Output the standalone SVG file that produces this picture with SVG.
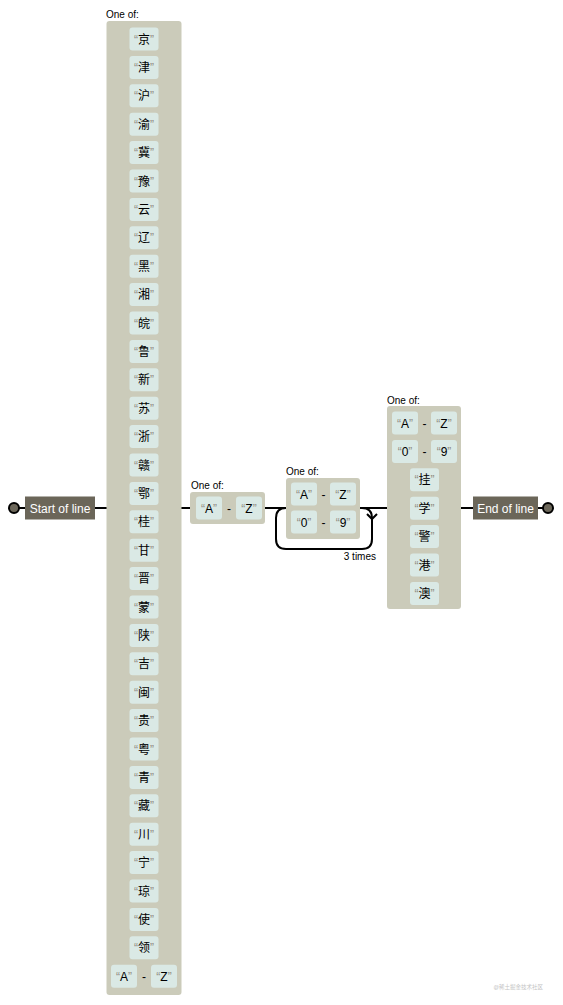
<svg xmlns="http://www.w3.org/2000/svg" width="563" height="1005" viewBox="0 0 563 1005">
<style>
text{font-family:"Liberation Sans",Arial,"Noto Sans CJK SC",sans-serif;}
.lit{fill:#dae9e5;}
.cs{fill:#cbcbba;}
.anchor{fill:#6b6659;}
.lbl{font-size:10px;fill:#000;}
.t{font-size:12px;fill:#000;text-anchor:middle;}
.q{fill:#908c83;}
.at{font-size:12px;fill:#fff;text-anchor:middle;}
.ln{stroke:#000;stroke-width:2;fill:none;}
</style>
<defs>
<rect id="cb" class="lit" width="29" height="23" rx="3"/>
<rect id="lb" class="lit" width="26" height="23" rx="3"/>
</defs>
<rect width="563" height="1005" fill="#fff"/>
<g id="connectors">
<path class="ln" d="M19,508H25 M95,508H107 M181,508H190 M265,508H286 M360,508H387 M461,508H473 M538,508H543"/>
<path class="ln" d="M286,508 q-10,0 -10,10 V539 q0,10 10,10 H362 q10,0 10,-10 V518 q0,-10 -10,-10"/>
<path class="ln" d="M367,514 l5,5 l5,-5"/>
</g>
<g id="start">
<circle cx="14" cy="508" r="5" fill="#6b6659" stroke="#000" stroke-width="2"/>
<rect class="anchor" x="25" y="496.5" width="70" height="23"/>
<text class="at" x="60" y="512.5">Start of line</text>
</g>
<g id="charset1">
<text class="lbl" x="106" y="18">One of:</text>
<rect class="cs" x="106.5" y="21" width="75" height="974" rx="3"/>
<g id="c1items">
<use href="#cb" x="129.5" y="27.5"/><text class="t" x="144" y="43.5"><tspan class="q">“</tspan>京<tspan class="q">”</tspan></text>
<use href="#cb" x="129.5" y="55.9"/><text class="t" x="144" y="71.9"><tspan class="q">“</tspan>津<tspan class="q">”</tspan></text>
<use href="#cb" x="129.5" y="84.3"/><text class="t" x="144" y="100.3"><tspan class="q">“</tspan>沪<tspan class="q">”</tspan></text>
<use href="#cb" x="129.5" y="112.7"/><text class="t" x="144" y="128.7"><tspan class="q">“</tspan>渝<tspan class="q">”</tspan></text>
<use href="#cb" x="129.5" y="141.1"/><text class="t" x="144" y="157.1"><tspan class="q">“</tspan>冀<tspan class="q">”</tspan></text>
<use href="#cb" x="129.5" y="169.5"/><text class="t" x="144" y="185.5"><tspan class="q">“</tspan>豫<tspan class="q">”</tspan></text>
<use href="#cb" x="129.5" y="197.9"/><text class="t" x="144" y="213.9"><tspan class="q">“</tspan>云<tspan class="q">”</tspan></text>
<use href="#cb" x="129.5" y="226.3"/><text class="t" x="144" y="242.3"><tspan class="q">“</tspan>辽<tspan class="q">”</tspan></text>
<use href="#cb" x="129.5" y="254.7"/><text class="t" x="144" y="270.7"><tspan class="q">“</tspan>黑<tspan class="q">”</tspan></text>
<use href="#cb" x="129.5" y="283.1"/><text class="t" x="144" y="299.1"><tspan class="q">“</tspan>湘<tspan class="q">”</tspan></text>
<use href="#cb" x="129.5" y="311.5"/><text class="t" x="144" y="327.5"><tspan class="q">“</tspan>皖<tspan class="q">”</tspan></text>
<use href="#cb" x="129.5" y="339.9"/><text class="t" x="144" y="355.9"><tspan class="q">“</tspan>鲁<tspan class="q">”</tspan></text>
<use href="#cb" x="129.5" y="368.3"/><text class="t" x="144" y="384.3"><tspan class="q">“</tspan>新<tspan class="q">”</tspan></text>
<use href="#cb" x="129.5" y="396.7"/><text class="t" x="144" y="412.7"><tspan class="q">“</tspan>苏<tspan class="q">”</tspan></text>
<use href="#cb" x="129.5" y="425.1"/><text class="t" x="144" y="441.1"><tspan class="q">“</tspan>浙<tspan class="q">”</tspan></text>
<use href="#cb" x="129.5" y="453.5"/><text class="t" x="144" y="469.5"><tspan class="q">“</tspan>赣<tspan class="q">”</tspan></text>
<use href="#cb" x="129.5" y="481.9"/><text class="t" x="144" y="497.9"><tspan class="q">“</tspan>鄂<tspan class="q">”</tspan></text>
<use href="#cb" x="129.5" y="510.3"/><text class="t" x="144" y="526.3"><tspan class="q">“</tspan>桂<tspan class="q">”</tspan></text>
<use href="#cb" x="129.5" y="538.7"/><text class="t" x="144" y="554.7"><tspan class="q">“</tspan>甘<tspan class="q">”</tspan></text>
<use href="#cb" x="129.5" y="567.1"/><text class="t" x="144" y="583.1"><tspan class="q">“</tspan>晋<tspan class="q">”</tspan></text>
<use href="#cb" x="129.5" y="595.5"/><text class="t" x="144" y="611.5"><tspan class="q">“</tspan>蒙<tspan class="q">”</tspan></text>
<use href="#cb" x="129.5" y="623.9"/><text class="t" x="144" y="639.9"><tspan class="q">“</tspan>陕<tspan class="q">”</tspan></text>
<use href="#cb" x="129.5" y="652.3"/><text class="t" x="144" y="668.3"><tspan class="q">“</tspan>吉<tspan class="q">”</tspan></text>
<use href="#cb" x="129.5" y="680.7"/><text class="t" x="144" y="696.7"><tspan class="q">“</tspan>闽<tspan class="q">”</tspan></text>
<use href="#cb" x="129.5" y="709.1"/><text class="t" x="144" y="725.1"><tspan class="q">“</tspan>贵<tspan class="q">”</tspan></text>
<use href="#cb" x="129.5" y="737.5"/><text class="t" x="144" y="753.5"><tspan class="q">“</tspan>粤<tspan class="q">”</tspan></text>
<use href="#cb" x="129.5" y="765.9"/><text class="t" x="144" y="781.9"><tspan class="q">“</tspan>青<tspan class="q">”</tspan></text>
<use href="#cb" x="129.5" y="794.3"/><text class="t" x="144" y="810.3"><tspan class="q">“</tspan>藏<tspan class="q">”</tspan></text>
<use href="#cb" x="129.5" y="822.7"/><text class="t" x="144" y="838.7"><tspan class="q">“</tspan>川<tspan class="q">”</tspan></text>
<use href="#cb" x="129.5" y="851.1"/><text class="t" x="144" y="867.1"><tspan class="q">“</tspan>宁<tspan class="q">”</tspan></text>
<use href="#cb" x="129.5" y="879.5"/><text class="t" x="144" y="895.5"><tspan class="q">“</tspan>琼<tspan class="q">”</tspan></text>
<use href="#cb" x="129.5" y="907.9"/><text class="t" x="144" y="923.9"><tspan class="q">“</tspan>使<tspan class="q">”</tspan></text>
<use href="#cb" x="129.5" y="936.3"/><text class="t" x="144" y="952.3"><tspan class="q">“</tspan>领<tspan class="q">”</tspan></text>
<use href="#lb" x="111" y="964.7"/><text class="t" x="124" y="980.7"><tspan class="q">“</tspan>A<tspan class="q">”</tspan></text>
<text class="t" x="144" y="980.7">-</text>
<use href="#lb" x="151" y="964.7"/><text class="t" x="164" y="980.7"><tspan class="q">“</tspan>Z<tspan class="q">”</tspan></text>
</g>
</g>
<g id="charset2">
<text class="lbl" x="191" y="489">One of:</text>
<rect class="cs" x="190" y="492" width="75" height="32" rx="3"/>
<use href="#lb" x="196" y="496.5"/><text class="t" x="209" y="512.5"><tspan class="q">“</tspan>A<tspan class="q">”</tspan></text>
<text class="t" x="229" y="512.5">-</text>
<use href="#lb" x="236" y="496.5"/><text class="t" x="249" y="512.5"><tspan class="q">“</tspan>Z<tspan class="q">”</tspan></text>
</g>
<g id="charset3">
<text class="lbl" x="286" y="475">One of:</text>
<rect class="cs" x="286" y="478" width="74" height="61" rx="3"/>
<use href="#lb" x="291" y="482.5"/><text class="t" x="304" y="498.5"><tspan class="q">“</tspan>A<tspan class="q">”</tspan></text>
<text class="t" x="323.5" y="498.5">-</text>
<use href="#lb" x="330" y="482.5"/><text class="t" x="343" y="498.5"><tspan class="q">“</tspan>Z<tspan class="q">”</tspan></text>
<use href="#lb" x="291" y="510.5"/><text class="t" x="304" y="526.5"><tspan class="q">“</tspan>0<tspan class="q">”</tspan></text>
<text class="t" x="323.5" y="526.5">-</text>
<use href="#lb" x="330" y="510.5"/><text class="t" x="343" y="526.5"><tspan class="q">“</tspan>9<tspan class="q">”</tspan></text>
<text class="lbl" x="376" y="560" text-anchor="end">3 times</text>
</g>
<g id="charset4">
<text class="lbl" x="387" y="404">One of:</text>
<rect class="cs" x="387" y="406" width="74" height="203" rx="3"/>
<use href="#lb" x="392" y="411.5"/><text class="t" x="405" y="427.5"><tspan class="q">“</tspan>A<tspan class="q">”</tspan></text>
<text class="t" x="424.5" y="427.5">-</text>
<use href="#lb" x="431" y="411.5"/><text class="t" x="444" y="427.5"><tspan class="q">“</tspan>Z<tspan class="q">”</tspan></text>
<use href="#lb" x="392" y="439.9"/><text class="t" x="405" y="455.9"><tspan class="q">“</tspan>0<tspan class="q">”</tspan></text>
<text class="t" x="424.5" y="455.9">-</text>
<use href="#lb" x="431" y="439.9"/><text class="t" x="444" y="455.9"><tspan class="q">“</tspan>9<tspan class="q">”</tspan></text>
<use href="#cb" x="410" y="468.3"/><text class="t" x="424.5" y="484.3"><tspan class="q">“</tspan>挂<tspan class="q">”</tspan></text>
<use href="#cb" x="410" y="496.7"/><text class="t" x="424.5" y="512.7"><tspan class="q">“</tspan>学<tspan class="q">”</tspan></text>
<use href="#cb" x="410" y="525.1"/><text class="t" x="424.5" y="541.1"><tspan class="q">“</tspan>警<tspan class="q">”</tspan></text>
<use href="#cb" x="410" y="553.5"/><text class="t" x="424.5" y="569.5"><tspan class="q">“</tspan>港<tspan class="q">”</tspan></text>
<use href="#cb" x="410" y="581.9"/><text class="t" x="424.5" y="597.9"><tspan class="q">“</tspan>澳<tspan class="q">”</tspan></text>
</g>
<g id="end">
<rect class="anchor" x="473" y="496.5" width="65" height="23"/>
<text class="at" x="505.5" y="512.5">End of line</text>
<circle cx="548" cy="508" r="5" fill="#6b6659" stroke="#000" stroke-width="2"/>
</g>
<text x="543" y="989" font-size="5.5" fill="#c4c4c4" text-anchor="end">@稀土掘金技术社区</text>
</svg>
